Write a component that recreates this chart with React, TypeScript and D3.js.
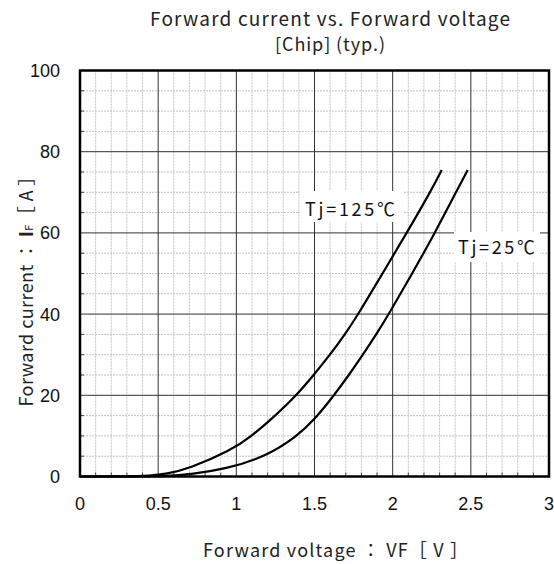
import React from "react";
import * as d3 from "d3";

const width = 554;
const height = 564;
const margin = { top: 70.5, right: 5, bottom: 87.5, left: 80 };

// forward voltage [V] / forward current [A]
const vf125 = [0, 0.3, 0.45, 0.55, 0.7, 0.96, 1.1, 1.25, 1.385, 1.495, 1.6, 1.695, 1.78, 1.935, 2.09, 2.24, 2.314];
const if125 = [0, 0, 0.2, 0.6, 2, 6.3, 10, 15, 20, 25, 30, 35, 40, 50, 60, 70, 75.5];
const vf25 = [0, 0.4, 0.55, 0.7, 0.93, 1.195, 1.39, 1.5, 1.625, 1.72, 1.81, 1.895, 1.975, 2.125, 2.27, 2.405, 2.48];
const if25 = [0, 0, 0.1, 0.5, 1.8, 5, 10, 14, 20, 25, 30, 35, 40, 50, 60, 70, 75.5];

const xTicks = [0, 0.5, 1, 1.5, 2, 2.5, 3];
const xTickLabels = ["0", "0.5", "1", "1.5", "2", "2.5", "3"];
const yTicks = [0, 20, 40, 60, 80, 100];

const titleFont = "'Noto Sans CJK JP', 'Noto Sans', sans-serif";
const numFont = "'Liberation Sans', Arial, sans-serif";

export default function App() {
  const xScale = d3
    .scaleLinear()
    .domain([0, 3])
    .range([margin.left, width - margin.right]);
  const yScale = d3
    .scaleLinear()
    .domain([0, 100])
    .range([height - margin.bottom, margin.top]);

  const line = d3
    .line<[number, number]>()
    .x((d) => xScale(d[0]))
    .y((d) => yScale(d[1]))
    .curve(d3.curveBasis);

  const series = [
    { name: "125", pts: vf125.map((v, i) => [v, if125[i]] as [number, number]) },
    { name: "25", pts: vf25.map((v, i) => [v, if25[i]] as [number, number]) },
  ];

  // 0.1 V and 5 A minor lines, skipping the major ones
  const minorX = d3.range(1, 30).filter((d) => d % 5 !== 0).map((d) => d / 10);
  const minorY = d3.range(0, 101, 5).filter((d) => d % 20 !== 0);

  const x0 = xScale(0);
  const x1 = xScale(3);
  const y0 = yScale(0);
  const y1 = yScale(100);

  return (
    <svg
      width={width}
      height={height}
      style={{ position: "absolute", left: 0, top: 0, background: "#fff" }}
    >
      <rect width={width} height={height} fill="#fff" />
      {/* minor grid */}
      <g stroke="#c4c4c4" strokeWidth={1} strokeDasharray="2,1">
        {minorX.map((d) => (
          <line key={"mx" + d} x1={xScale(d)} x2={xScale(d)} y1={y1} y2={y0} />
        ))}
        {minorY.map((d) => (
          <line key={"my" + d} x1={x0} x2={x1} y1={yScale(d)} y2={yScale(d)} />
        ))}
      </g>
      {/* small inner ticks on minor lines */}
      <g stroke="#444" strokeWidth={1}>
        {minorX.map((d) => (
          <line key={"tx" + d} x1={xScale(d)} x2={xScale(d)} y1={y0} y2={y0 - 4} />
        ))}
        {minorY.map((d) => (
          <line key={"ty" + d} x1={x0} x2={x0 + 4} y1={yScale(d)} y2={yScale(d)} />
        ))}
      </g>
      {/* major grid */}
      <g stroke="#333" strokeWidth={1}>
        {xTicks.slice(1, -1).map((d) => (
          <line key={"Mx" + d} x1={xScale(d)} x2={xScale(d)} y1={y1} y2={y0} />
        ))}
        {yTicks.slice(1, -1).map((d) => (
          <line key={"My" + d} x1={x0} x2={x1} y1={yScale(d)} y2={yScale(d)} />
        ))}
      </g>
      <rect
        x={x0}
        y={y1}
        width={x1 - x0}
        height={y0 - y1}
        fill="none"
        stroke="#000"
        strokeWidth={2.5}
      />

      {/* curves */}
      {series.map((s) => (
        <path key={s.name} d={line(s.pts) || ""} fill="none" stroke="#000" strokeWidth={2.2} />
      ))}

      {/* curve labels */}
      <rect x={300} y={191} width={104} height={31} fill="#fff" />
      <text x={305} y={216} fontFamily={titleFont} fontSize={18} textLength={90} fill="#111">
        Tj=125℃
      </text>
      <rect x={454} y={232} width={86} height={30} fill="#fff" />
      <text x={458} y={254} fontFamily={titleFont} fontSize={18} textLength={77} fill="#111">
        Tj=25℃
      </text>

      {/* tick labels */}
      {xTicks.map((d, i) => (
        <text
          key={"xl" + d}
          x={xScale(d)}
          y={510}
          textAnchor="middle"
          fontFamily={numFont}
          fontSize={18}
          fill="#111"
        >
          {xTickLabels[i]}
        </text>
      ))}
      {yTicks.map((d) => (
        <text
          key={"yl" + d}
          x={60}
          y={yScale(d)}
          dy="0.36em"
          textAnchor="end"
          fontFamily={numFont}
          fontSize={18}
          fill="#111"
        >
          {d}
        </text>
      ))}

      {/* titles */}
      <text x={330} y={26} textAnchor="middle" fontFamily={titleFont} fontSize={19} textLength={360} fill="#222">
        Forward current vs. Forward voltage
      </text>
      <text x={330} y={51} textAnchor="middle" fontFamily={titleFont} fontSize={18} textLength={110} fill="#222">
        [Chip] (typ.)
      </text>
      <text x={203} y={557} fontFamily={titleFont} fontSize={18} textLength={265} fill="#222">
        Forward voltage ： VF［ V ］
      </text>
      <text
        transform="translate(33,287) rotate(-90)"
        textAnchor="middle"
        fontFamily={titleFont}
        fontSize={18}
        textLength={239}
        fill="#222"
      >
        Forward current ： <tspan fontWeight="bold">I</tspan>
        <tspan fontSize={11}>F</tspan>［ A ］
      </text>
    </svg>
  );
}
